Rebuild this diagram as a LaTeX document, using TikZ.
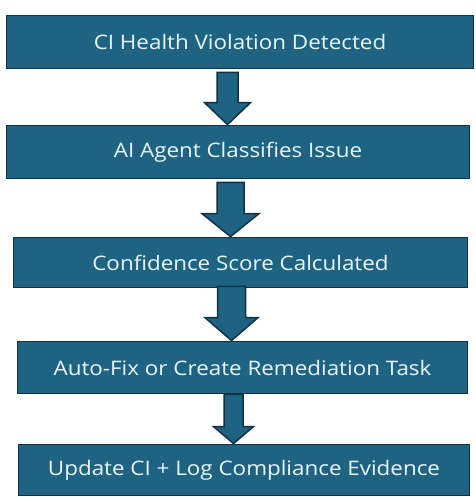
\documentclass[tikz,border=0pt]{standalone}
\usepackage{fontspec}
\setmainfont{Open Sans}[FakeStretch=1.12]
\usetikzlibrary{calc}
\definecolor{boxfill}{HTML}{1F6382}
\definecolor{boxline}{HTML}{0F3344}
\definecolor{boxtext}{HTML}{E8F6F8}
\tikzset{
  stepbox/.style={draw=boxline, fill=boxfill, line width=1.8pt, text=boxtext,
    inner sep=0pt, font=\fontsize{20}{24}\selectfont},
  blockarrow/.style={draw=boxline, fill=boxfill, line width=1.5pt, line join=miter}
}
\newcommand{\blockarr}[7]{%
  % #1 from node, #2 to node, #3 x center, #4 half shaft, #5 half head, #6 head length, #7 shaft top offset
  \path (#3pt,0 |- #1.south) ++(0,-#7pt) coordinate (st)
        (#3pt,0 |- #2.north) coordinate (tp);
  \draw[blockarrow] ($(st)+(-#4pt,0)$) -- ($(st)+(#4pt,0)$)
     -- ($(tp)+(#4pt,#6pt)$) -- ($(tp)+(#5pt,#6pt)$) -- (tp)
     -- ($(tp)+(-#5pt,#6pt)$) -- ($(tp)+(-#4pt,#6pt)$) -- cycle;
}
\begin{document}
\begin{tikzpicture}[x=1pt,y=1pt]
\useasboundingbox (0,0) rectangle (475,-497);
\node[stepbox, minimum width=467pt, minimum height=53pt] (b1) at (240,-42) {CI Health Violation Detected};
\node[stepbox, minimum width=463pt, minimum height=53pt] (b2) at (238,-152) {AI Agent Classifies Issue};
\node[stepbox, minimum width=454pt, minimum height=50pt] (b3) at (240.5,-262.5) {Confidence Score Calculated};
\node[stepbox, minimum width=450pt, minimum height=52pt] (b4) at (242.5,-367.5) {Auto-Fix or Create Remediation Task};
\node[stepbox, minimum width=451pt, minimum height=51pt] (b5) at (244,-470) {Update CI + Log Compliance Evidence};
\blockarr{b1}{b2}{227.5}{10.5}{23}{22}{3}
\blockarr{b2}{b3}{230.5}{13.5}{28.5}{23}{3}
\blockarr{b3}{b4}{231.5}{14}{26.5}{23}{-2}
\blockarr{b4}{b5}{233.5}{9.5}{20}{17}{0}
\end{tikzpicture}
\end{document}
